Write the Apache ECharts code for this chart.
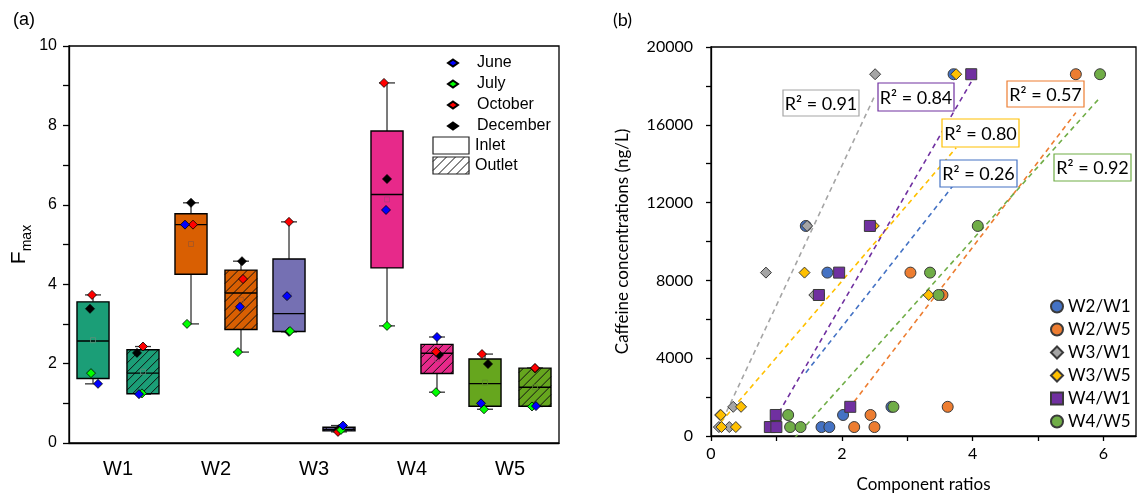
<!DOCTYPE html>
<html><head><meta charset="utf-8">
<script src="https://cdn.jsdelivr.net/npm/echarts@6/dist/echarts.min.js"></script>
<style>html,body{margin:0;padding:0;background:#fff}#c{width:1144px;height:498px}</style>
</head><body><div id="c"></div>
<script>
// ---------- DATA: panel (a) ----------
const groups = ['W1', 'W2', 'W3', 'W4', 'W5'];
const months = ['June', 'July', 'October', 'December'];
const fmaxTicks = [0, 2, 4, 6, 8, 10];
// Fmax per month, order: W1 inlet, W1 outlet, W2 inlet, W2 outlet, ..., W5 outlet
const fmaxJune     = [1.49, 1.23, 5.50, 3.43, 3.70, 0.44, 5.87, 2.67, 1.00, 0.93];
const fmaxJuly     = [1.76, 1.25, 3.00, 2.29, 2.82, 0.33, 2.95, 1.28, 0.85, 0.92];
const fmaxOctober  = [3.73, 2.43, 5.50, 4.13, 5.57, 0.28, 9.07, 2.30, 2.24, 1.89];
const fmaxDecember = [3.38, 2.27, 6.05, 4.58, 2.80, 0.35, 6.65, 2.22, 1.99, 1.88];

// ---------- DATA: panel (b) ----------
const ratioNames = ['W2/W1', 'W2/W5', 'W3/W1', 'W3/W5', 'W4/W1', 'W4/W5'];
const ratioTicks = [0, 2, 4, 6];
const caffeineTicks = [0, 4000, 8000, 12000, 16000, 20000];
const caffeine = [18600, 10800, 8400, 7250, 1500, 1080, 460, 460];
const ratioW2W1 = [3.71, 1.45, 1.78, 1.65, 2.76, 2.02, 1.69, 1.81];
const ratioW2W5 = [5.58, 2.45, 3.05, 3.54, 3.62, 2.44, 2.19, 2.50];
const ratioW3W1 = [2.51, 1.47, 0.84, 1.58, 0.34, 0.14, 0.12, 0.28];
const ratioW3W5 = [3.75, 2.49, 1.43, 3.33, 0.46, 0.15, 0.16, 0.38];
const ratioW4W1 = [3.98, 2.43, 1.96, 1.65, 2.13, 0.99, 0.90, 1.00];
const ratioW4W5 = [5.95, 4.08, 3.35, 3.48, 2.79, 1.18, 1.21, 1.37];
const r2Text = ['R² = 0.26', 'R² = 0.57', 'R² = 0.91', 'R² = 0.80', 'R² = 0.84', 'R² = 0.92'];

// ---------- STYLE ----------
const FA = 'Liberation Sans, Arial, sans-serif';
const FB = 'Lato, Open Sans, sans-serif';
const boxColors = ['#1b9e77', '#d95f02', '#7570b3', '#e7298a', '#66a61e'];
const meanColors = ['#5d8f7a', '#a0562a', '#6a66a0', '#b03e7a', '#5e8a2c'];
const monthColors = ['#0000ff', '#00ff00', '#ff0000', '#000000'];
const monthZ = [9, 8, 7, 6];
const monthJitter = [
  [5, -4, -6, -1, -2, 4, -1, 0, -4, 1],
  [-2, -1, -4, -3, 1, 2, 0, -1, -1, -3],
  [-1, 0, 2, 2, 0, -1, -3, -1, -3, 0],
  [-3, -6, 0, 1, 0, 0, 0, 2, 3, 0]
];
const ratioColors = ['#4472c4', '#ed7d31', '#a5a5a5', '#ffc000', '#7030a0', '#70ad47'];
const ratioSymbols = ['circle', 'circle', 'diamond', 'diamond', 'rect', 'circle'];
const boxOffset = 0.255, boxWidthU = 0.327;

const fmaxAll = [fmaxJune, fmaxJuly, fmaxOctober, fmaxDecember];
const ratioAll = [ratioW2W1, ratioW2W5, ratioW3W1, ratioW3W5, ratioW4W1, ratioW4W5];

function posOf(i) { const g = Math.floor(i / 2); return g + 0.5 + (i % 2 ? boxOffset : -boxOffset); }

// box statistics from the four monthly values
const boxData = [];
for (let i = 0; i < groups.length * 2; i++) {
  const v = fmaxAll.map(a => a[i]).sort((a, b) => a - b);
  const q1 = (v[0] + v[1]) / 2, med = (v[1] + v[2]) / 2, q3 = (v[2] + v[3]) / 2;
  const mean = v.reduce((s, x) => s + x, 0) / v.length;
  boxData.push([posOf(i), v[0], q1, med, q3, v[3], mean, Math.floor(i / 2), i % 2]);
}

function hatch(x0, y0, w, h, s) {
  const segs = [];
  for (let c = x0 + y0 + s / 2; c < x0 + w + y0 + h; c += s) {
    const lo = Math.max(x0, c - (y0 + h)), hi = Math.min(x0 + w, c - y0);
    if (hi > lo) segs.push([lo, c - lo, hi, c - hi]);
  }
  return segs;
}

function renderBox(params, api) {
  const x = api.value(0);
  const y = k => api.coord([x, api.value(k)])[1];
  const cx = api.coord([x, 0])[0];
  const ymn = y(1), yq1 = y(2), ymd = y(3), yq3 = y(4), ymx = y(5), ymean = y(6);
  const ci = api.value(7), out = api.value(8);
  const bw = api.size([boxWidthU, 0])[0];
  const x0 = cx - bw / 2;
  const ws = { stroke: '#333', lineWidth: 1.3 };
  const ch = [
    { type: 'line', shape: { x1: cx, y1: ymx, x2: cx, y2: yq3 }, style: ws },
    { type: 'line', shape: { x1: cx, y1: yq1, x2: cx, y2: ymn }, style: ws },
    { type: 'line', shape: { x1: cx - 8, y1: ymx, x2: cx + 8, y2: ymx }, style: ws },
    { type: 'line', shape: { x1: cx - 8, y1: ymn, x2: cx + 8, y2: ymn }, style: ws },
    { type: 'rect', shape: { x: x0, y: yq3, width: bw, height: yq1 - yq3 }, style: { fill: boxColors[ci] } }
  ];
  if (out) {
    hatch(x0, yq3, bw, yq1 - yq3, 9).forEach(s => ch.push({
      type: 'line', shape: { x1: s[0], y1: s[1], x2: s[2], y2: s[3] }, style: { stroke: '#111', lineWidth: 1 }
    }));
  }
  ch.push({ type: 'rect', shape: { x: x0, y: yq3, width: bw, height: yq1 - yq3 }, style: { fill: 'none', stroke: '#000', lineWidth: 1.4 } });
  ch.push({ type: 'line', shape: { x1: x0, y1: ymd, x2: x0 + bw, y2: ymd }, style: { stroke: '#000', lineWidth: 1.4 } });
  ch.push({ type: 'rect', shape: { x: cx - 2.5, y: ymean - 2.5, width: 5, height: 5 }, style: { fill: 'none', stroke: meanColors[ci], lineWidth: 0.8 } });
  return { type: 'group', children: ch };
}

// least-squares trend lines over each series' x range
function regression(xs, ys) {
  const n = xs.length;
  const mx = xs.reduce((a, b) => a + b, 0) / n, my = ys.reduce((a, b) => a + b, 0) / n;
  let sxy = 0, sxx = 0;
  for (let i = 0; i < n; i++) { sxy += (xs[i] - mx) * (ys[i] - my); sxx += (xs[i] - mx) ** 2; }
  const b = sxy / sxx, a = my - b * mx;
  const lo = Math.min(...xs), hi = Math.max(...xs);
  return [[lo, a + b * lo], [hi, a + b * hi]];
}

const series = [];
series.push({
  type: 'custom', xAxisIndex: 1, yAxisIndex: 0, renderItem: renderBox, data: boxData, z: 2, silent: true
});
months.forEach((m, k) => {
  series.push({
    name: m, type: 'scatter', xAxisIndex: 1, yAxisIndex: 0, symbol: 'diamond', symbolSize: 9, z: monthZ[k],
    itemStyle: { color: monthColors[k], borderColor: '#000', borderWidth: 0.8, opacity: 1 },
    data: fmaxAll[k].map((v, i) => ({ value: [posOf(i), v], symbolOffset: [monthJitter[k][i], 0] }))
  });
});
ratioNames.forEach((nm, k) => {
  series.push({
    name: nm + ' trend', type: 'line', xAxisIndex: 2, yAxisIndex: 1, showSymbol: false, z: 2, silent: true,
    data: regression(ratioAll[k], caffeine), clip: true,
    lineStyle: { color: ratioColors[k], width: 1.6, type: [5, 4] }
  });
});
ratioNames.forEach((nm, k) => {
  series.push({
    name: nm, type: 'scatter', xAxisIndex: 2, yAxisIndex: 1, symbol: ratioSymbols[k],
    symbolSize: 11, z: 5 + k,
    itemStyle: { color: ratioColors[k], borderColor: '#3a3a3a', borderWidth: 1, opacity: 1 },
    data: ratioAll[k].map((v, i) => [v, caffeine[i]])
  });
});

const graphics = [
  { type: 'text', left: 13, top: 11, style: { text: '(a)', font: '18px ' + FA, fill: '#000' } },
  { type: 'text', left: 613, top: 11, style: { text: '(b)', font: '18px ' + FB, fill: '#000' } },
  { type: 'rect', shape: { x: 433, y: 137, width: 36, height: 17 }, style: { fill: '#fff', stroke: '#222', lineWidth: 1.2 } },
  { type: 'text', x: 475, y: 146, style: { text: 'Inlet', font: '16px ' + FA, fill: '#000', verticalAlign: 'middle' } },
  { type: 'text', x: 475, y: 166, style: { text: 'Outlet', font: '16px ' + FA, fill: '#000', verticalAlign: 'middle' } }
];
hatch(433, 157, 36, 17, 9).forEach(s => graphics.push({
  type: 'line', shape: { x1: s[0], y1: s[1], x2: s[2], y2: s[3] }, style: { stroke: '#111', lineWidth: 1 }
}));
graphics.push({ type: 'rect', shape: { x: 433, y: 157, width: 36, height: 17 }, style: { fill: 'none', stroke: '#222', lineWidth: 1.2 } });

const r2Boxes = [[940, 160, 77, 27], [1007, 81, 77, 26], [783, 90, 76, 26], [942, 119, 77, 28], [878, 83, 76, 28], [1054, 154, 77, 27]];
r2Boxes.forEach((b, k) => {
  graphics.push({ type: 'rect', z: 100, shape: { x: b[0], y: b[1], width: b[2], height: b[3] }, style: { fill: '#fff', stroke: ratioColors[k], lineWidth: 1.2 } });
  graphics.push({ type: 'text', z: 101, x: b[0] + b[2] / 2, y: b[1] + b[3] / 2 + 1, style: { text: r2Text[k], font: '18px ' + FB, fill: '#000', align: 'center', verticalAlign: 'middle' } });
});

const chart = echarts.init(document.getElementById('c'), null, { renderer: 'canvas' });
chart.setOption({
  animation: false,
  backgroundColor: '#fff',
  grid: [
    { left: 69, right: 585, top: 46, bottom: 55, show: true, borderColor: '#000', borderWidth: 1.3, backgroundColor: 'transparent' },
    { left: 711, right: 8, top: 47, bottom: 56, show: true, borderColor: '#000', borderWidth: 1.3, backgroundColor: 'transparent' }
  ],
  legend: [
    {
      data: months, orient: 'vertical', left: 442, top: 50, itemWidth: 10, itemHeight: 7, itemGap: 5,
      icon: 'diamond', textStyle: { fontFamily: FA, fontSize: 16, color: '#000', padding: [0, 0, 0, 14] }
    },
    {
      data: ratioNames, orient: 'vertical', left: 1045, top: 293, itemWidth: 12, itemHeight: 12, itemGap: 6,
      textStyle: { fontFamily: FB, fontSize: 17, color: '#000' }
    }
  ],
  xAxis: [
    {
      type: 'category', gridIndex: 0, data: groups, boundaryGap: true,
      axisLine: { lineStyle: { color: '#000', width: 1.3 } },
      axisTick: { length: 6, lineStyle: { color: '#000', width: 1.3 } },
      axisLabel: { fontFamily: FA, fontSize: 20, color: '#000', margin: 16 }
    },
    { type: 'value', gridIndex: 0, min: 0, max: groups.length, show: false },
    {
      type: 'value', gridIndex: 1, min: 0, max: 6.5, interval: 1,
      name: 'Component ratios', nameLocation: 'middle', nameGap: 40,
      nameTextStyle: { fontFamily: FB, fontSize: 17, color: '#000' },
      axisLine: { onZero: false, lineStyle: { color: '#000', width: 1.3 } },
      axisTick: { length: 5, lineStyle: { color: '#000', width: 1.3 }, customValues: [0, 1, 2, 3, 4, 5, 6] },
      axisLabel: { fontFamily: FB, fontSize: 16, color: '#000', margin: 10, customValues: ratioTicks },
      splitLine: { show: false }
    }
  ],
  yAxis: [
    {
      type: 'value', gridIndex: 0, min: 0, max: 10, interval: 1,
      name: '{f|F}{s|max}', nameLocation: 'middle', nameGap: 38, nameRotate: 90,
      nameTextStyle: { rich: {
        f: { fontFamily: FA, fontSize: 21, color: '#000', lineHeight: 22, verticalAlign: 'top' },
        s: { fontFamily: FA, fontSize: 14, color: '#000', lineHeight: 14, padding: [11, 0, 0, 0], verticalAlign: 'top' }
      } },
      axisLine: { lineStyle: { color: '#000', width: 1.3 } },
      axisTick: { length: 6, lineStyle: { color: '#000', width: 1.3 } },
      axisLabel: { fontFamily: FA, fontSize: 16, color: '#000', margin: 12, customValues: fmaxTicks },
      splitLine: { show: false }
    },
    {
      type: 'value', gridIndex: 1, min: 0, max: 20000, interval: 2000,
      name: 'Caffeine concentrations (ng/L)', nameLocation: 'middle', nameGap: 80,
      nameTextStyle: { fontFamily: FB, fontSize: 17, color: '#000' },
      axisLine: { lineStyle: { color: '#000', width: 1.3 } },
      axisTick: { length: 5, lineStyle: { color: '#000', width: 1.3 } },
      axisLabel: { fontFamily: FB, fontSize: 16, color: '#000', margin: 18, customValues: caffeineTicks, formatter: v => String(v) },
      splitLine: { show: false }
    }
  ],
  series: series,
  graphic: graphics
});
</script></body></html>
